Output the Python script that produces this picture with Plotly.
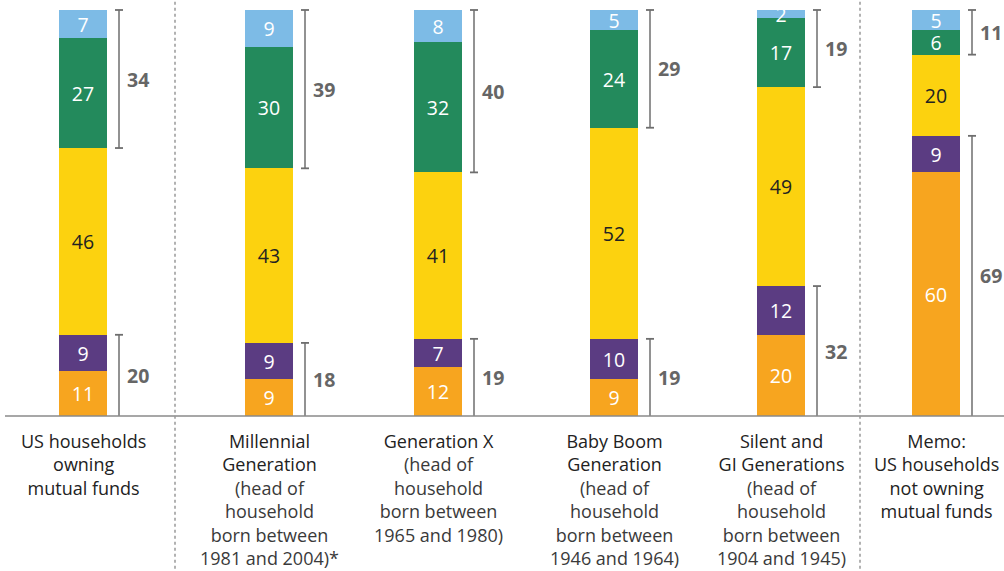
import plotly.graph_objects as go

categories = ["US households owning mutual funds", "Millennial Generation", "Generation X",
              "Baby Boom Generation", "Silent and GI Generations", "Memo: not owning"]
orange = [11, 9, 12, 9, 20, 60]
purple = [9, 9, 7, 10, 12, 9]
yellow = [46, 43, 41, 52, 49, 20]
green = [27, 30, 32, 24, 17, 6]
lightblue = [7, 9, 8, 5, 2, 5]
bottom_bracket = [20, 18, 19, 19, 32, 69]
top_bracket = [34, 39, 40, 29, 19, 11]

title_lines = [
    ["US households", "owning", "mutual funds"],
    ["Millennial", "Generation"],
    ["Generation X"],
    ["Baby Boom", "Generation"],
    ["Silent and", "GI Generations"],
    ["Memo:", "US households", "not owning", "mutual funds"],
]
sub_lines = [
    [],
    ["(head of", "household", "born between", "1981 and 2004)*"],
    ["(head of", "household", "born between", "1965 and 1980)"],
    ["(head of", "household", "born between", "1946 and 1964)"],
    ["(head of", "household", "born between", "1904 and 1945)"],
    [],
]

xpos = [83, 269, 438, 614, 781, 936]
bar_w = 48
FONT = "Open Sans"

series = [
    (orange, "#F7A51F", "white"),
    (purple, "#5B3C82", "white"),
    (yellow, "#FCD20F", "#222222"),
    (green, "#238A5C", "white"),
    (lightblue, "#7DBBE6", "white"),
]

fig = go.Figure()
for vals, col, tcol in series:
    fig.add_trace(go.Bar(
        x=xpos, y=vals, width=bar_w, marker=dict(color=col, line=dict(width=0)),
        text=[str(v) for v in vals], textposition="inside", insidetextanchor="middle",
        textfont=dict(family=FONT, size=19.5, color=tcol), textangle=0,
        constraintext="none", hoverinfo="skip", showlegend=False,
    ))

shapes = []
annotations = []
bcol = "#6e6e6e"
for i, x in enumerate(xpos):
    bx = x + 36
    lo, hi = 0, orange[i] + purple[i]
    top_lo = orange[i] + purple[i] + yellow[i]
    top_hi = top_lo + green[i] + lightblue[i]
    for (a, b, lab) in [(lo, hi, bottom_bracket[i]), (top_lo, top_hi, top_bracket[i])]:
        shapes.append(dict(type="line", x0=bx, x1=bx, y0=a, y1=b, line=dict(color=bcol, width=1.5)))
        for yy in (a, b):
            if yy == 0:
                continue
            shapes.append(dict(type="line", x0=bx - 4, x1=bx + 4, y0=yy, y1=yy, line=dict(color=bcol, width=1.8)))
        annotations.append(dict(x=bx + 6, y=(a + b) / 2, text="<b>%d</b>" % lab, showarrow=False,
                                xanchor="left", yanchor="middle",
                                font=dict(family=FONT, size=19.5, color="#666666")))
    txt = "<br>".join(title_lines[i])
    if sub_lines[i]:
        txt += "<br>" + "<br>".join("<span style='color:#3a3a3a'>%s</span>" % s for s in sub_lines[i])
    annotations.append(dict(x=x, y=-2.6, text=txt, showarrow=False, xanchor="center", yanchor="top",
                            align="center", font=dict(family=FONT, size=18, color="#222222")))

shapes.append(dict(type="line", x0=5, x1=1004, y0=0, y1=0, line=dict(color="#8a8a8a", width=1.5)))
for sx in (175, 860):
    shapes.append(dict(type="line", x0=sx, x1=sx, y0=102, y1=-38.2,
                       line=dict(color="#999999", width=1.5, dash="dot")))

fig.update_layout(
    barmode="stack", bargap=0,
    width=1004, height=571,
    margin=dict(l=0, r=0, t=0, b=0),
    paper_bgcolor="white", plot_bgcolor="white",
    xaxis=dict(range=[0, 1004], visible=False, fixedrange=True),
    yaxis=dict(range=[-38.18, 102.46], visible=False, fixedrange=True),
    shapes=shapes, annotations=annotations,
)

fig.write_html("out.html", config={"displayModeBar": False},
               post_script="document.body.style.margin='0';document.body.style.overflow='hidden';")
